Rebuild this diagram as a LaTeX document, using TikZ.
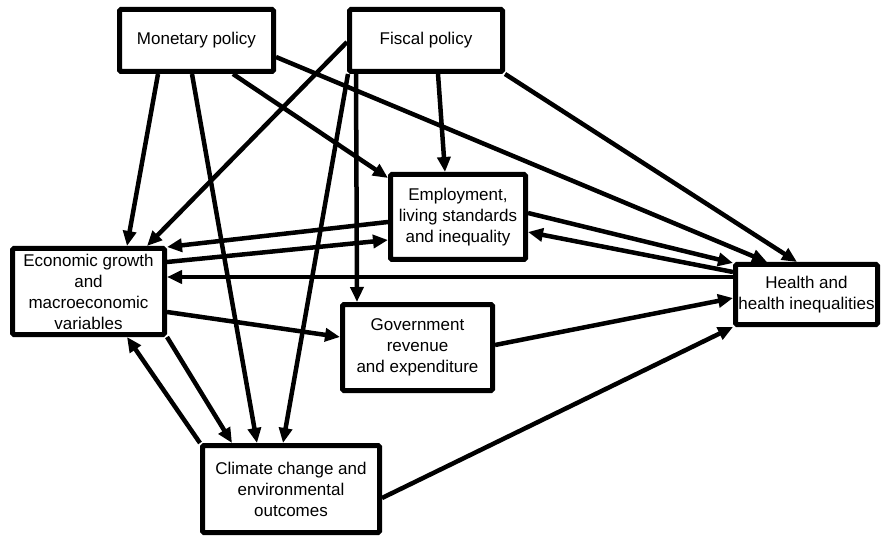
\documentclass[tikz,border=0pt]{standalone}
\usepackage{fontspec}
\setmainfont{Liberation Sans}
\usetikzlibrary{arrows.meta,calc}

\tikzset{
  box/.style={draw=black, line width=5pt, fill=white, align=center,
    rounded corners=1.5pt, inner sep=0pt, font=\fontsize{17}{21}\selectfont},
  link/.style={draw=black, line width=4.5pt},
  arr/.style={link, -{Triangle[length=15pt,width=13pt]}}
}

\begin{document}
\begin{tikzpicture}[x=1pt,y=-1pt]
  \useasboundingbox (0,0) rectangle (883,537);

  % boxes
  \node[box, minimum width=154pt, minimum height=62pt] (mon) at (196.5,40.5) {Monetary policy};
  \node[box, minimum width=153pt, minimum height=62pt] (fis) at (426,40.5) {Fiscal policy};
  \node[box, minimum width=135pt, minimum height=85pt] (emp) at (458,217) {Employment,\\living standards\\ and inequality};
  \node[box, minimum width=152pt, minimum height=86pt] (econ) at (88.5,291.5) {Economic growth\\and\\macroeconomic\\variables};
  \node[box, minimum width=150pt, minimum height=86pt] (gov) at (417.5,347.5) {Government\\revenue\\and expenditure};
  \node[box, minimum width=177pt, minimum height=87pt] (clim) at (291,489) {Climate change and\\environmental\\outcomes};
  \node[box, minimum width=142pt, minimum height=60pt] (hlth) at (806.5,294.5) {Health and\\health inequalities};

  % links from monetary policy
  \draw[arr] ($(mon.south west)+(41,0)$)  -- ($(econ.north west)+(117,0)$);
  \draw[arr] ($(mon.south west)+(75,0)$)  -- ($(clim.north west)+(57,0)$);
  \draw[arr] ($(mon.south west)+(116,0)$) -- ($(emp.north west)+(0,6)$);
  \draw[arr] ($(mon.north east)+(0,50)$)  -- ($(hlth.north west)+(34,0)$);

  % links from fiscal policy
  \draw[arr] ($(fis.north west)+(0,35)$)  -- ($(econ.north west)+(137,0)$);
  \draw[arr] ($(fis.south west)+(1,0)$)   -- ($(clim.north west)+(83,0)$);
  \draw[arr] ($(fis.south west)+(9,0)$)   -- ($(gov.north west)+(17,0)$);
  \draw[arr] ($(fis.south west)+(91,0)$)  -- ($(emp.north west)+(57,0)$);
  \draw[arr] (fis.south east)             -- ($(hlth.north west)+(64,0)$);

  % employment and economic growth
  \draw[arr] ($(emp.north west)+(0,50)$)  -- ($(econ.north east)+(0,1)$);
  \draw[arr] ($(econ.north east)+(0,16)$) -- ($(emp.north west)+(0,68)$);

  % employment and health
  \draw[arr] ($(emp.north east)+(0,41)$)  -- ($(hlth.north west)+(0,1)$);
  \draw[arr] ($(hlth.north west)+(0,10)$) -- ($(emp.north east)+(0,60)$);

  % health back to economic growth
  \draw[arr] ($(hlth.north west)+(0,15)$) -- ($(econ.north east)+(0,31)$);

  % government revenue
  \draw[arr] ($(econ.north east)+(0,66)$) -- ($(gov.north west)+(0,35)$);
  \draw[arr] ($(gov.north east)+(0,43)$)  -- ($(hlth.north west)+(0,36)$);

  % climate
  \draw[arr] (econ.south east)            -- ($(clim.north west)+(32,0)$);
  \draw[arr] (clim.north west)            -- ($(econ.south west)+(117,0)$);
  \draw[arr] ($(clim.north east)+(0,55)$) -- (hlth.south west);
\end{tikzpicture}
\end{document}
